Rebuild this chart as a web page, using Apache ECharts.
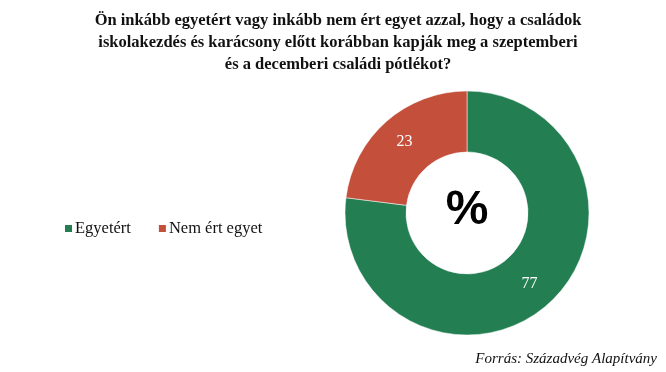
<!DOCTYPE html>
<html><head><meta charset="utf-8">
<script src="https://cdn.jsdelivr.net/npm/echarts@6/dist/echarts.min.js"></script>
<style>html,body{margin:0;padding:0;background:#fff}#c{width:666px;height:372px}</style>
</head><body><div id="c"></div>
<script>
const categories = ['Egyetért', 'Nem ért egyet'];
const values = [77, 23];
const colors = ['#237F52', '#C44F3B'];
const titleText = 'Ön inkább egyetért vagy inkább nem ért egyet azzal, hogy a családok\niskolakezdés és karácsony előtt korábban kapják meg a szeptemberi\nés a decemberi családi pótlékot?';
const sourceText = 'Forrás: Századvég Alapítvány';

const chart = echarts.init(document.getElementById('c'));
chart.setOption({
  animation: false,
  title: [{
    text: titleText,
    left: 333, top: 5, textAlign: 'center',
    textStyle: {fontFamily: 'Liberation Serif', fontWeight: 'bold', fontSize: 16.5, lineHeight: 22, color: '#111'}
  }, {
    text: sourceText,
    right: 4, top: 347,
    textStyle: {fontFamily: 'Liberation Serif', fontStyle: 'italic', fontWeight: 'normal', fontSize: 15, color: '#111'}
  }],
  graphic: [{
    type: 'text', x: 467, y: 211,
    style: {text: '%', x: 0, y: 0, align: 'center', verticalAlign: 'middle', fontFamily: 'Liberation Sans', fontWeight: 'bold', fontSize: 48, fill: '#000'}
  }],
  legend: {
    left: 58, top: 215, orient: 'horizontal',
    itemWidth: 9, itemHeight: 9, itemGap: 26, icon: 'rect',
    textStyle: {fontFamily: 'Liberation Serif', fontSize: 16.5, color: '#111', padding: [0,0,0,-3]},
    data: categories
  },
  series: [{
    type: 'pie',
    center: [467, 213],
    radius: [61, 122],
    startAngle: 90,
    clockwise: true,
    label: {show: true, position: 'inside', color: '#fff', fontFamily: 'Liberation Serif', fontSize: 16, formatter: '{c}'},
    labelLine: {show: false},
    itemStyle: {borderColor: '#fff', borderWidth: 0.5},
    emphasis: {disabled: true},
    data: categories.map((n, i) => ({name: n, value: values[i], itemStyle: {color: colors[i]}}))
  }]
});
</script></body></html>
